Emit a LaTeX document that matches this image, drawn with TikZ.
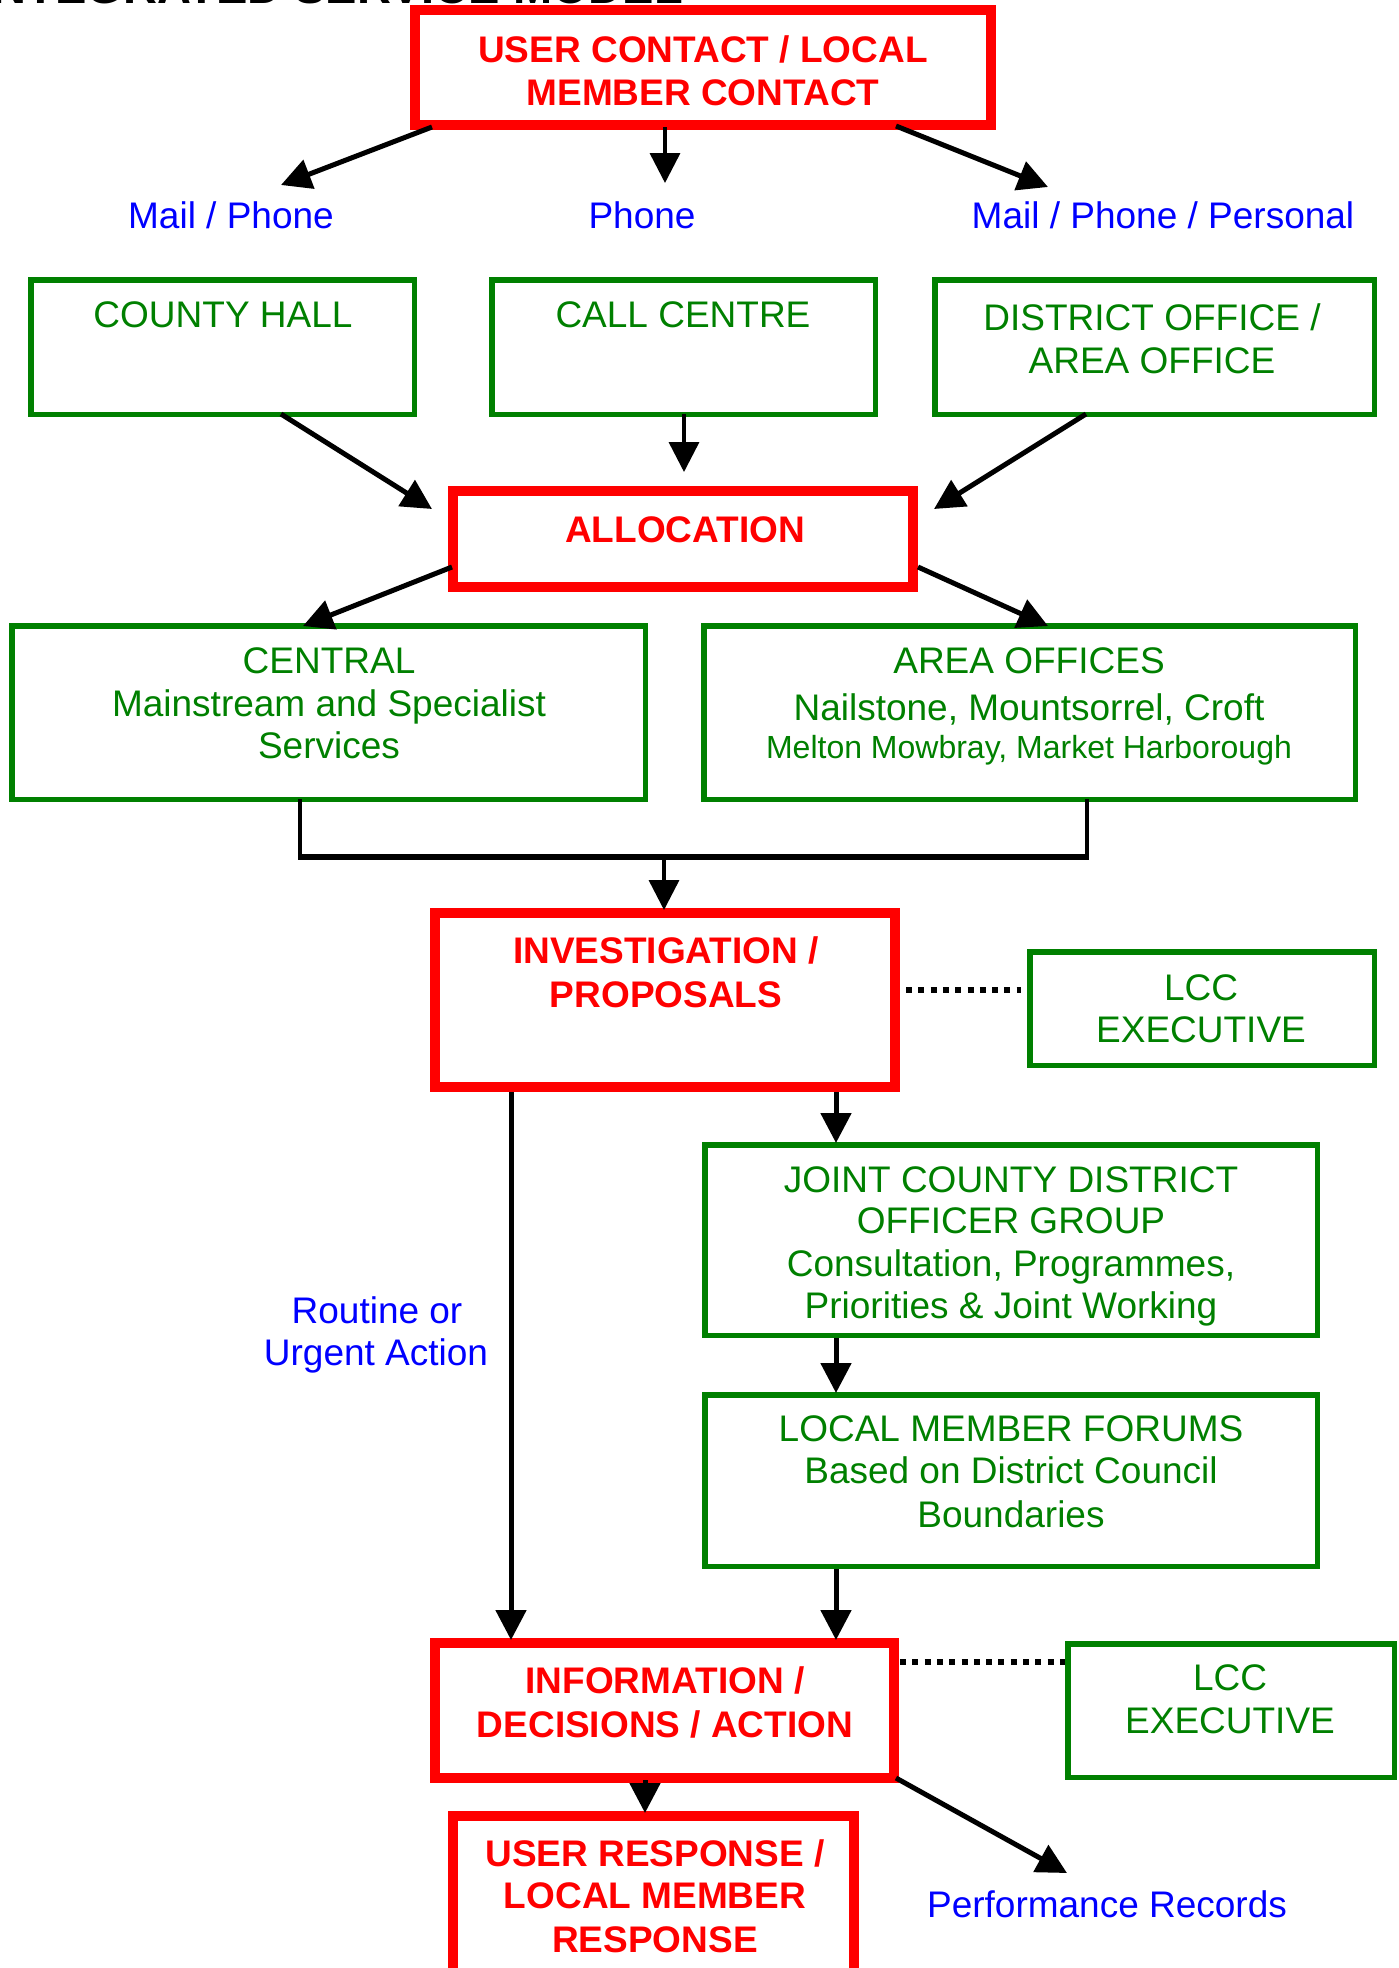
\documentclass[tikz,border=0pt]{standalone}
\usepackage{fontspec}
\setmainfont{Liberation Sans}
\usetikzlibrary{arrows.meta}
\definecolor{dgreen}{RGB}{0,128,0}
\definecolor{pred}{RGB}{255,0,0}
\definecolor{pblue}{RGB}{0,0,255}
\begin{document}
\begin{tikzpicture}[x=1pt,y=-1pt,
  redbox/.style={draw=pred,line width=10pt,inner sep=0pt,outer sep=0pt,rectangle},
  greenbox/.style={draw=dgreen,line width=5.5pt,inner sep=0pt,outer sep=0pt,rectangle},
  rtxt/.style={text=pred,font=\fontsize{37}{43}\selectfont\bfseries,inner sep=0pt,anchor=base},
  gtxt/.style={text=dgreen,font=\fontsize{37}{43}\selectfont,inner sep=0pt,anchor=base},
  gsmall/.style={text=dgreen,font=\fontsize{32}{38}\selectfont,inner sep=0pt,anchor=base},
  btxt/.style={text=pblue,font=\fontsize{37}{43}\selectfont,inner sep=0pt,anchor=base},
  arr/.style={line width=5pt,-{Triangle[length=30pt,width=30pt]}},
  thinarr/.style={line width=3.5pt,-{Triangle[length=30pt,width=30pt]}},
  conn/.style={line width=4pt},
  dotline/.style={line width=6pt,dash pattern=on 6pt off 6.3pt}
]
\useasboundingbox (0,0) rectangle (1398,1968);

% title (cut off at top)
\node[font=\fontsize{47}{52}\selectfont\bfseries,inner sep=0pt,anchor=base east] (title) at (683,3) {INTEGRATED SERVICE MODEL};

% boxes
\node[redbox,minimum width=576pt,minimum height=115pt] (top) at (703,67.5) {};
\node[greenbox,minimum width=383.5pt,minimum height=134.5pt] (county) at (222.5,347) {};
\node[greenbox,minimum width=383.5pt,minimum height=134.5pt] (call) at (683.5,347) {};
\node[greenbox,minimum width=439.5pt,minimum height=134.5pt] (district) at (1154.5,347) {};
\node[redbox,minimum width=460pt,minimum height=96pt] (alloc) at (683,539) {};
\node[greenbox,minimum width=633.5pt,minimum height=173.5pt] (central) at (328.5,712.5) {};
\node[greenbox,minimum width=651.5pt,minimum height=173.5pt] (area) at (1029.5,712.5) {};
\node[redbox,minimum width=460pt,minimum height=174pt] (invest) at (665,1000) {};
\node[greenbox,minimum width=344.5pt,minimum height=113.5pt] (lccA) at (1202,1008.5) {};
\node[greenbox,minimum width=612.5pt,minimum height=190.5pt] (joint) at (1011,1240) {};
\node[greenbox,minimum width=612.5pt,minimum height=171.5pt] (local) at (1011,1480.5) {};
\node[redbox,minimum width=459pt,minimum height=135pt] (info) at (664.5,1710.5) {};
\node[greenbox,minimum width=326.5pt,minimum height=133.5pt] (lccB) at (1231,1710.5) {};
\node[redbox,minimum width=401pt,minimum height=159pt] (resp) at (653.5,1895.5) {};

% labels
\node[btxt] (lmail) at (231,228) {Mail / Phone};
\node[btxt] (lphone) at (642,228) {Phone};
\node[btxt] (lpers) at (1163,228) {Mail / Phone / Personal};
\node[btxt] (lrout1) at (377,1323) {Routine or};
\node[btxt] (lrout2) at (376,1365) {Urgent Action};
\node[btxt] (lperf) at (1107,1917) {Performance Records};

% connector coordinates
\coordinate (a1s) at (432,127);  \coordinate (a1e) at (281,185);
\coordinate (a2s) at (665,127);  \coordinate (a2e) at (665,183);
\coordinate (a3s) at (896,126);  \coordinate (a3e) at (1048,187);
\coordinate (a4s) at (281,414);  \coordinate (a4e) at (432,509);
\coordinate (a5s) at (684,414);  \coordinate (a5e) at (684,472);
\coordinate (a6s) at (1086,414); \coordinate (a6e) at (934,509);
\coordinate (a7s) at (452,567);  \coordinate (a7e) at (303,626);
\coordinate (a8s) at (918,567);  \coordinate (a8e) at (1048,626);
\coordinate (jl) at (300,857);   \coordinate (jr) at (1087,857);
\coordinate (jm) at (664,857);   \coordinate (a9e) at (664,910);
\coordinate (a10s) at (836,1092); \coordinate (a10e) at (836,1143);
\coordinate (a11s) at (836,1338); \coordinate (a11e) at (836,1393);
\coordinate (a12s) at (836,1569); \coordinate (a12e) at (836,1640);
\coordinate (a13s) at (511,1092); \coordinate (a13e) at (511,1640);
\coordinate (a14s) at (645,1780); \coordinate (a14e) at (645,1813);
\coordinate (a15s) at (896,1778); \coordinate (a15e) at (1067,1873);
\coordinate (d1s) at (906,990);  \coordinate (d1e) at (1021,990);
\coordinate (d2s) at (900,1662); \coordinate (d2e) at (1065,1662);

% connectors
\draw[arr] (a1s) -- (a1e);
\draw[thinarr] (a2s) -- (a2e);
\draw[arr] (a3s) -- (a3e);
\draw[arr] (a4s) -- (a4e);
\draw[thinarr] (a5s) -- (a5e);
\draw[arr] (a6s) -- (a6e);
\draw[arr] (a7s) -- (a7e);
\draw[arr] (a8s) -- (a8e);
\draw[conn] (central.south -| jl) -- (jl);
\draw[conn] (area.south -| jr) -- (jr);
\draw[line width=5.5pt] ([xshift=-2pt]jl) -- ([xshift=2pt]jr);
\draw[thinarr] (jm) -- (a9e);
\draw[arr] (a10s) -- (a10e);
\draw[arr] (a11s) -- (a11e);
\draw[arr] (a12s) -- (a12e);
\draw[arr] (a13s) -- (a13e);
\draw[arr] (a14s) -- (a14e);
\draw[arr] (a15s) -- (a15e);
\draw[dotline] (d1s) -- (d1e);
\draw[dotline] (d2s) -- (d2e);

% box texts
\node[rtxt] (t1a) at (703,62) {USER CONTACT / LOCAL};
\node[rtxt] (t1b) at (703,105) {MEMBER CONTACT};
\node[gtxt] (t2) at (223,327) {COUNTY HALL};
\node[gtxt] (t3) at (683,327) {CALL CENTRE};
\node[gtxt] (t4a) at (1152,330) {DISTRICT OFFICE /};
\node[gtxt] (t4b) at (1152,373) {AREA OFFICE};
\node[rtxt] (t5) at (685,542) {ALLOCATION};
\node[gtxt] (t6a) at (329,673) {CENTRAL};
\node[gtxt] (t6b) at (329,716) {Mainstream and Specialist};
\node[gtxt] (t6c) at (329,758) {Services};
\node[gtxt] (t7a) at (1029,673) {AREA OFFICES};
\node[gtxt] (t7b) at (1029,720) {Nailstone, Mountsorrel, Croft};
\node[gsmall] (t7c) at (1029,758) {Melton Mowbray, Market Harborough};
\node[rtxt] (t8a) at (666,963) {INVESTIGATION /};
\node[rtxt] (t8b) at (666,1007) {PROPOSALS};
\node[gtxt] (t9a) at (1201,1000) {LCC};
\node[gtxt] (t9b) at (1201,1042) {EXECUTIVE};
\node[gtxt] (t10a) at (1011,1192) {JOINT COUNTY DISTRICT};
\node[gtxt] (t10b) at (1011,1233) {OFFICER GROUP};
\node[gtxt] (t10c) at (1011,1276) {Consultation, Programmes,};
\node[gtxt] (t10d) at (1011,1318) {Priorities \& Joint Working};
\node[gtxt] (t11a) at (1011,1441) {LOCAL MEMBER FORUMS};
\node[gtxt] (t11b) at (1011,1483) {Based on District Council};
\node[gtxt] (t11c) at (1011,1527) {Boundaries};
\node[rtxt] (t12a) at (665,1693) {INFORMATION /};
\node[rtxt] (t12b) at (665,1737) {DECISIONS / ACTION};
\node[gtxt] (t13a) at (1230,1690) {LCC};
\node[gtxt] (t13b) at (1230,1733) {EXECUTIVE};
\node[rtxt] (t14a) at (655,1866) {USER RESPONSE /};
\node[rtxt] (t14b) at (655,1908) {LOCAL MEMBER};
\node[rtxt] (t14c) at (655,1952) {RESPONSE};
\end{tikzpicture}
\end{document}
